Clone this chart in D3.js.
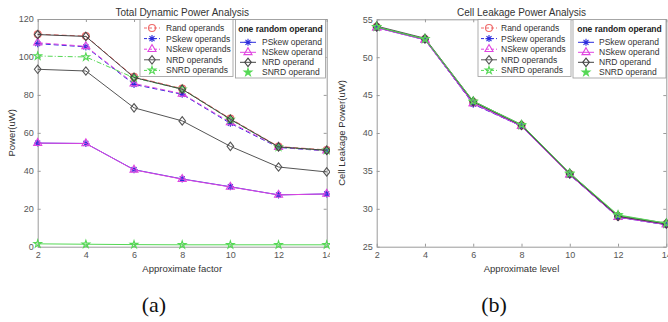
<!DOCTYPE html>
<html lang="en">
<head>
  <meta charset="utf-8">
  <title>Dynamic and leakage power</title>
  <script src="https://cdnjs.cloudflare.com/ajax/libs/d3/7.8.5/d3.min.js"></script>
  <style>
    body { margin: 0; background: #fff; }
    svg { display: block; font-family: 'Liberation Sans', Arial, sans-serif; }
  </style>
</head>
<body>
  <svg id="chart" width="668" height="322"></svg>

  <script>
    // data
    const factors = [2, 4, 6, 8, 10, 12, 14];

    const seriesNames = ['Rand operands', 'PSkew operands', 'NSkew operands', 'NRD operands', 'SNRD operands'];
    const oneRandomNames = ['PSkew operand', 'NSkew operand', 'NRD operand', 'SNRD operand'];

    // (a) total dynamic power, uW
    const dynRand  = [112, 111, 89.5, 83.3, 67.5, 52.8, 51];
    const dynPSkew = [107, 105.3, 85.5, 80.3, 65, 52.3, 50.5];
    const dynNSkew = [107.5, 105.6, 86, 80.6, 65.5, 52.5, 50.6];
    const dynNRD   = [93.5, 92.6, 73.2, 66.3, 52.9, 42, 39.4];
    const dynSNRD  = [100.5, 100, 89, 83, 67, 52.5, 50.8];
    const dynPSkewOne = [54.6, 54.4, 40.6, 35.7, 31.6, 27.3, 27.8];
    const dynNSkewOne = [54.6, 54.4, 40.5, 35.6, 31.5, 27.3, 27.8];
    const dynNRDOne   = [111.8, 110.8, 89.2, 83, 67.2, 52.6, 50.8];
    const dynSNRDOne  = [1.5, 1.3, 1.1, 1, 1, 1, 1];
    const dynTicks = [0, 20, 40, 60, 80, 100, 120];

    // (b) cell leakage power, uW
    const leakRand  = [54.0, 52.4, 44.1, 41.0, 34.6, 29.0, 28.0];
    const leakPSkew = [54.0, 52.4, 43.8, 40.9, 34.5, 28.9, 27.9];
    const leakNSkew = [53.9, 52.3, 43.9, 40.9, 34.5, 28.9, 28.0];
    const leakNRD   = [54.1, 52.5, 44.2, 41.1, 34.7, 29.1, 28.1];
    const leakSNRD  = [54.0, 52.4, 44.1, 41.0, 34.6, 29.1, 28.0];
    const leakPSkewOne = [53.9, 52.3, 43.9, 40.9, 34.5, 28.9, 27.9];
    const leakNSkewOne = [53.9, 52.3, 43.9, 40.9, 34.5, 28.9, 27.9];
    const leakNRDOne   = [54.0, 52.4, 44.1, 41.0, 34.6, 29.0, 28.0];
    const leakSNRDOne  = [54.0, 52.4, 44.2, 41.1, 34.7, 29.2, 28.1];
    const leakTicks = [25, 30, 35, 40, 45, 50, 55];

    // styles for the nine series (5 + 4 "one random operand")
    const styles = [
      { color: '#ef6a6a', dash: '5,3', marker: 'circle' },
      { color: '#2d2ddc', dash: '5,3', marker: 'asterisk' },
      { color: '#e045e0', dash: '5,3', marker: 'triangle' },
      { color: '#555555', dash: null, marker: 'diamond' },
      { color: '#55d855', dash: '5,2,1,2', marker: 'star' },
      { color: '#2d2ddc', dash: null, marker: 'asterisk' },
      { color: '#e045e0', dash: null, marker: 'triangle' },
      { color: '#444444', dash: null, marker: 'diamond' },
      { color: '#55d855', dash: null, marker: 'star' }
    ];

    const svg = d3.select('#chart');

    drawPanel({
      left: 37.7, right: 326.7, top: 19, bottom: 246.7, clip: 330,
      title: 'Total Dynamic Power Analysis', xLabel: 'Approximate factor',
      yLabel: 'Power(uW)', yLabelX: 12, tag: '(a)', tagX: 154,
      yDomain: [0, 120], yTicks: dynTicks,
      series: [dynRand, dynPSkew, dynNSkew, dynNRD, dynSNRD, dynPSkewOne, dynNSkewOne, dynNRDOne, dynSNRDOne],
      leg1: { x: 140, w: 93, marker: 12, text: 26 },
      leg2: { x: 235.5, w: 90, marker: 12.5, text: 26.5 }
    });

    drawPanel({
      left: 376.7, right: 666.3, top: 19.3, bottom: 246.7, clip: 668,
      title: 'Cell Leakage Power Analysis', xLabel: 'Approximate level',
      yLabel: 'Cell Leakage Power(uW)', yLabelX: 342, tag: '(b)', tagX: 494,
      yDomain: [25, 55], yTicks: leakTicks,
      series: [leakRand, leakPSkew, leakNSkew, leakNRD, leakSNRD, leakPSkewOne, leakNSkewOne, leakNRDOne, leakSNRDOne],
      leg1: { x: 478, w: 93, marker: 11, text: 23 },
      leg2: { x: 573, w: 93, marker: 13, text: 26 }
    });

    function markerPath(type) {
      if (type === 'circle') return d3.symbol(d3.symbolCircle, 38)();
      if (type === 'triangle') return d3.symbol(d3.symbolTriangle, 28)();
      if (type === 'star') return d3.symbol(d3.symbolStar, 18)();
      if (type === 'diamond') return 'M0,-4.2L3.3,0L0,4.2L-3.3,0Z';
      return 'M-3.5,0H3.5M0,-3.5V3.5M-2.5,-2.5L2.5,2.5M-2.5,2.5L2.5,-2.5';
    }

    function drawPanel(cfg) {
      const clipId = 'clip' + Math.round(cfg.left);
      svg.append('clipPath').attr('id', clipId)
        .append('rect').attr('x', cfg.left - 40).attr('y', 0)
        .attr('width', cfg.clip - cfg.left + 40).attr('height', 322);

      const g = svg.append('g').attr('clip-path', `url(#${clipId})`);

      const x = d3.scaleLinear().domain([2, 14]).range([cfg.left, cfg.right]);
      const y = d3.scaleLinear().domain(cfg.yDomain).range([cfg.bottom, cfg.top]);
      const h = cfg.bottom - cfg.top;
      const w = cfg.right - cfg.left;

      // axes, MATLAB style: box with inward ticks on all sides
      const axisColor = '#9a9a9a';
      const styleAxis = sel => {
        sel.select('.domain').attr('stroke', axisColor);
        sel.selectAll('.tick line').attr('stroke', axisColor);
        sel.selectAll('.tick text').attr('fill', '#555').style('font-size', '9px');
      };

      g.append('g').attr('transform', `translate(0,${cfg.bottom})`)
        .call(d3.axisBottom(x).tickValues(factors).tickSizeInner(-3).tickSizeOuter(0).tickPadding(5))
        .call(styleAxis);
      g.append('g').attr('transform', `translate(0,${cfg.top})`)
        .call(d3.axisTop(x).tickValues(factors).tickSizeInner(-3).tickSizeOuter(0).tickFormat(''))
        .call(styleAxis);
      g.append('g').attr('transform', `translate(${cfg.left},0)`)
        .call(d3.axisLeft(y).tickValues(cfg.yTicks).tickSizeInner(-3).tickSizeOuter(0).tickPadding(4))
        .call(styleAxis);
      g.append('g').attr('transform', `translate(${cfg.right},0)`)
        .call(d3.axisRight(y).tickValues(cfg.yTicks).tickSizeInner(-3).tickSizeOuter(0).tickFormat(''))
        .call(styleAxis);

      // lines and markers
      const line = d3.line().x((d, i) => x(factors[i])).y(d => y(d));
      cfg.series.forEach((vals, k) => {
        const st = styles[k];
        g.append('path').datum(vals)
          .attr('d', line)
          .attr('fill', 'none')
          .attr('stroke', st.color)
          .attr('stroke-width', 1)
          .attr('stroke-dasharray', st.dash);
        g.selectAll(null).data(vals).enter().append('path')
          .attr('transform', (d, i) => `translate(${x(factors[i])},${y(d)})`)
          .attr('d', markerPath(st.marker))
          .attr('fill', 'none')
          .attr('stroke', st.color)
          .attr('stroke-width', 1.1);
      });

      // titles and labels
      svg.append('text')
        .attr('x', cfg.left + w / 2).attr('y', 15.5)
        .attr('text-anchor', 'middle').attr('fill', '#333')
        .style('font-size', '10px')
        .text(cfg.title);
      svg.append('text')
        .attr('x', cfg.left + w / 2).attr('y', 272)
        .attr('text-anchor', 'middle').attr('fill', '#333')
        .style('font-size', '9.5px')
        .text(cfg.xLabel);
      svg.append('text')
        .attr('transform', `translate(${cfg.yLabelX},${cfg.top + h / 2}) rotate(-90)`)
        .attr('text-anchor', 'middle').attr('dy', '0.35em').attr('fill', '#333')
        .style('font-size', '9.5px')
        .text(cfg.yLabel);
      svg.append('text')
        .attr('x', cfg.tagX).attr('y', 312)
        .attr('text-anchor', 'middle').attr('fill', '#111')
        .style('font-family', "'Liberation Serif', 'Times New Roman', serif")
        .style('font-size', '22px')
        .text(cfg.tag);

      // legend 1: the five operand sets
      const l1 = svg.append('g');
      l1.append('rect').attr('x', cfg.leg1.x).attr('y', 19.5)
        .attr('width', cfg.leg1.w).attr('height', 57)
        .attr('fill', '#fff').attr('stroke', '#999').attr('stroke-width', 0.8);
      seriesNames.forEach((name, k) => {
        const st = styles[k];
        const cy = 28 + k * 10.6;
        const mx = cfg.leg1.x + cfg.leg1.marker;
        l1.append('line').attr('x1', mx - 8).attr('x2', mx + 8).attr('y1', cy).attr('y2', cy)
          .attr('stroke', st.color).attr('stroke-width', 1).attr('stroke-dasharray', st.dash ? '3,2' : null);
        l1.append('path').attr('transform', `translate(${mx},${cy})`)
          .attr('d', markerPath(st.marker)).attr('fill', 'none')
          .attr('stroke', st.color).attr('stroke-width', 1.1);
        l1.append('text').attr('x', cfg.leg1.x + cfg.leg1.text).attr('y', cy).attr('dy', '0.35em')
          .attr('fill', '#333').style('font-size', '8.5px').text(name);
      });

      // legend 2: one random operand
      const l2 = svg.append('g');
      l2.append('rect').attr('x', cfg.leg2.x).attr('y', 19.5)
        .attr('width', cfg.leg2.w).attr('height', 58.5)
        .attr('fill', '#fff').attr('stroke', '#999').attr('stroke-width', 0.8);
      l2.append('text').attr('x', cfg.leg2.x + cfg.leg2.w / 2).attr('y', 29).attr('dy', '0.35em')
        .attr('text-anchor', 'middle').attr('fill', '#222')
        .style('font-size', '8.5px').style('font-weight', 'bold')
        .text('one random operand');
      oneRandomNames.forEach((name, k) => {
        const st = styles[k + 5];
        const cy = 42.3 + k * 10;
        const mx = cfg.leg2.x + cfg.leg2.marker;
        if (k < 3) {
          l2.append('line').attr('x1', mx - 8).attr('x2', mx + 8).attr('y1', cy).attr('y2', cy)
            .attr('stroke', st.color).attr('stroke-width', 1);
        }
        l2.append('path').attr('transform', `translate(${mx},${cy})`)
          .attr('d', markerPath(st.marker)).attr('fill', k === 3 ? st.color : 'none')
          .attr('stroke', st.color).attr('stroke-width', 1.1);
        l2.append('text').attr('x', cfg.leg2.x + cfg.leg2.text).attr('y', cy).attr('dy', '0.35em')
          .attr('fill', '#333').style('font-size', '8.5px').text(name);
      });
    }
  </script>
</body>
</html>
